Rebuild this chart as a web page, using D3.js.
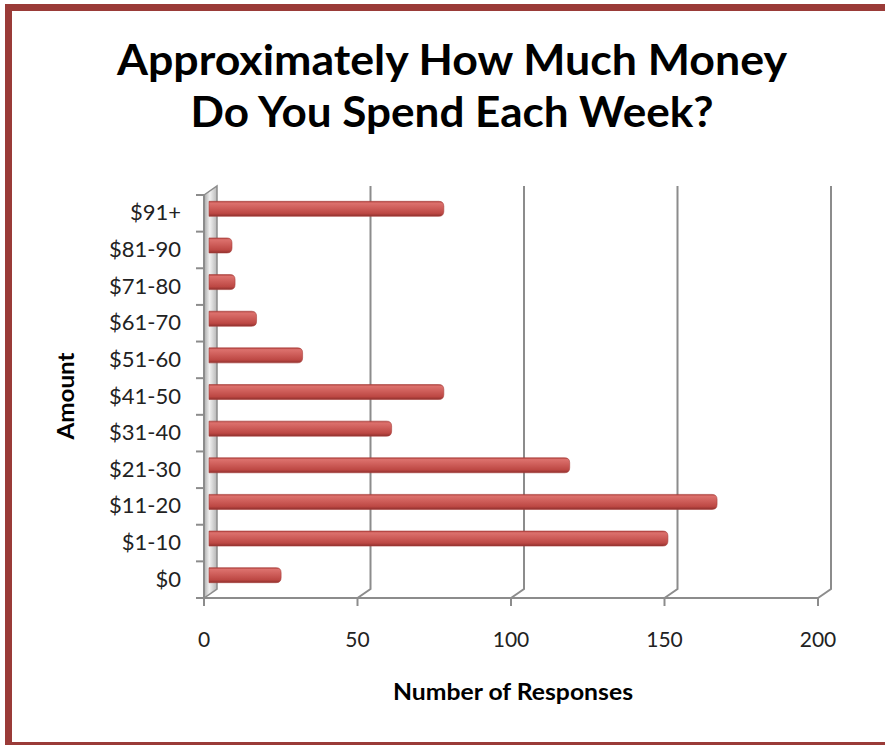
<!DOCTYPE html>
<html>
<head>
<meta charset="utf-8">
<script src="https://cdn.jsdelivr.net/npm/d3@7"></script>
<style>
  body { margin: 0; background: #fff; }
  svg { display: block; font-family: Lato, "Open Sans", sans-serif; }
</style>
</head>
<body>
<div id="chart"></div>
<script>
// chart data
var categories = ["$91+", "$81-90", "$71-80", "$61-70", "$51-60", "$41-50", "$31-40", "$21-30", "$11-20", "$1-10", "$0"]
var responses  = [76, 7, 8, 15, 30, 76, 59, 117, 165, 149, 23]
var xTicks     = [0, 50, 100, 150, 200]
var titleLines = ["Approximately How Much Money", "Do You Spend Each Week?"]

var width = 885, height = 745

// front plane of the 3d plot area + depth offset
var front = {left: 204, right: 818, top: 195, bottom: 598}
var depth = {dx: 13, dy: -9}
var gridColor = "#8c8c8c"

var svg = d3.select("#chart").append("svg")
    .attr("width", width)
    .attr("height", height)

var defs = svg.append("defs")

var barGrad = defs.append("linearGradient")
    .attr("id", "barGrad").attr("x1", 0).attr("y1", 0).attr("x2", 0).attr("y2", 1)
barGrad.selectAll("stop")
    .data([[0, "#b23f3b"], [0.12, "#dc716d"], [0.4, "#d0605c"], [0.8, "#bd4844"], [1, "#8f302d"]])
    .enter().append("stop")
    .attr("offset", d => d[0]).attr("stop-color", d => d[1])

var wallGrad = defs.append("linearGradient")
    .attr("id", "wallGrad").attr("x1", 0).attr("y1", 0).attr("x2", 1).attr("y2", 0.05)
wallGrad.selectAll("stop")
    .data([[0, "#a6a6a6"], [0.45, "#f0f0f0"], [1, "#b8b8b8"]])
    .enter().append("stop")
    .attr("offset", d => d[0]).attr("stop-color", d => d[1])

// scales
var x_scale = d3.scaleLinear()
    .domain([0, 200])
    .range([front.left, front.right])

var y_scale = d3.scaleBand()
    .domain(categories)
    .range([front.top, front.bottom])

// outer frame
svg.append("rect")
    .attr("x", 8.5).attr("y", 7.5)
    .attr("width", 1000).attr("height", 738)
    .attr("fill", "none")
    .attr("stroke", "#9a3b38")
    .attr("stroke-width", 7)

// title
svg.append("g").selectAll("text")
    .data(titleLines)
    .enter().append("text")
    .attr("x", 452)
    .attr("y", (d, i) => 75 + i * 52)
    .attr("text-anchor", "middle")
    .attr("font-weight", "bold")
    .attr("font-size", 42)
    .attr("fill", "#000")
    .text(d => d)
    .each(function (d, i) {
        var target = [670, 523][i]
        d3.select(this).attr("textLength", target).attr("lengthAdjust", "spacingAndGlyphs")
    })

// side wall (back left)
svg.append("polygon")
    .attr("points", [
        [front.left, front.top],
        [front.left + depth.dx, front.top + depth.dy],
        [front.left + depth.dx, front.bottom + depth.dy],
        [front.left, front.bottom]
    ].map(p => p.join(",")).join(" "))
    .attr("fill", "url(#wallGrad)")
    .attr("stroke", gridColor)
    .attr("stroke-width", 1.5)

// back wall grid lines + floor diagonals
var grid = svg.append("g")
grid.selectAll("path.grid")
    .data(xTicks.filter(d => d > 0))
    .enter().append("path")
    .attr("class", "grid")
    .attr("d", d => {
        var xf = x_scale(d)
        return "M" + xf + "," + front.bottom +
               "L" + (xf + depth.dx) + "," + (front.bottom + depth.dy) +
               "L" + (xf + depth.dx) + "," + (front.top + depth.dy)
    })
    .attr("fill", "none")
    .attr("stroke", gridColor)
    .attr("stroke-width", 2)

// y axis line and ticks at band boundaries
var yax = svg.append("g")
yax.append("line")
    .attr("x1", front.left).attr("x2", front.left)
    .attr("y1", front.top).attr("y2", front.bottom + 8)
    .attr("stroke", gridColor).attr("stroke-width", 2)
yax.selectAll("line.tick")
    .data(d3.range(categories.length + 1))
    .enter().append("line")
    .attr("class", "tick")
    .attr("x1", front.left - 8).attr("x2", front.left)
    .attr("y1", i => front.top + i * y_scale.step())
    .attr("y2", i => front.top + i * y_scale.step())
    .attr("stroke", gridColor).attr("stroke-width", 2)
yax.selectAll("text")
    .data(categories)
    .enter().append("text")
    .attr("x", 181)
    .attr("y", d => y_scale(d) + y_scale.bandwidth() / 2 + 7)
    .attr("text-anchor", "end")
    .attr("font-size", 22)
    .attr("fill", "#222")
    .text(d => d)

// x axis line, ticks, labels
var xax = svg.append("g")
xax.append("line")
    .attr("x1", front.left).attr("x2", front.right)
    .attr("y1", front.bottom).attr("y2", front.bottom)
    .attr("stroke", gridColor).attr("stroke-width", 2)
xax.selectAll("line.tick")
    .data(xTicks)
    .enter().append("line")
    .attr("class", "tick")
    .attr("x1", d => x_scale(d)).attr("x2", d => x_scale(d))
    .attr("y1", front.bottom).attr("y2", front.bottom + 8)
    .attr("stroke", gridColor).attr("stroke-width", 2)
xax.selectAll("text")
    .data(xTicks)
    .enter().append("text")
    .attr("x", d => x_scale(d))
    .attr("y", 647)
    .attr("text-anchor", "middle")
    .attr("font-size", 21)
    .attr("fill", "#222")
    .text(d => d)

// bars
var barH = 15
var bars = svg.append("g")
bars.selectAll("path")
    .data(categories.map((c, i) => ({cat: c, val: responses[i]})))
    .enter().append("path")
    .attr("d", d => {
        var x0 = x_scale(0) + 5
        var x1 = x_scale(d.val) + depth.dx / 2
        var yc = y_scale(d.cat) + y_scale.bandwidth() / 2 + depth.dy / 2
        var r = 5
        var y0 = yc - barH / 2, y1 = yc + barH / 2
        return "M" + x0 + "," + y0 +
               "L" + (x1 - r) + "," + y0 +
               "Q" + x1 + "," + y0 + " " + x1 + "," + (y0 + r) +
               "L" + x1 + "," + (y1 - r) +
               "Q" + x1 + "," + y1 + " " + (x1 - r) + "," + y1 +
               "L" + x0 + "," + y1 + "Z"
    })
    .attr("fill", "url(#barGrad)")
    .attr("stroke", "#a8403c")
    .attr("stroke-width", 0.6)

// axis titles
svg.append("text")
    .attr("x", 513)
    .attr("y", 700)
    .attr("text-anchor", "middle")
    .attr("font-weight", "bold")
    .attr("font-size", 22)
    .attr("textLength", 240)
    .attr("lengthAdjust", "spacingAndGlyphs")
    .text("Number of Responses")

svg.append("text")
    .attr("transform", "translate(74,396) rotate(-90)")
    .attr("text-anchor", "middle")
    .attr("font-weight", "bold")
    .attr("font-size", 22)
    .attr("textLength", 87)
    .attr("lengthAdjust", "spacingAndGlyphs")
    .text("Amount")
</script>
</body>
</html>
